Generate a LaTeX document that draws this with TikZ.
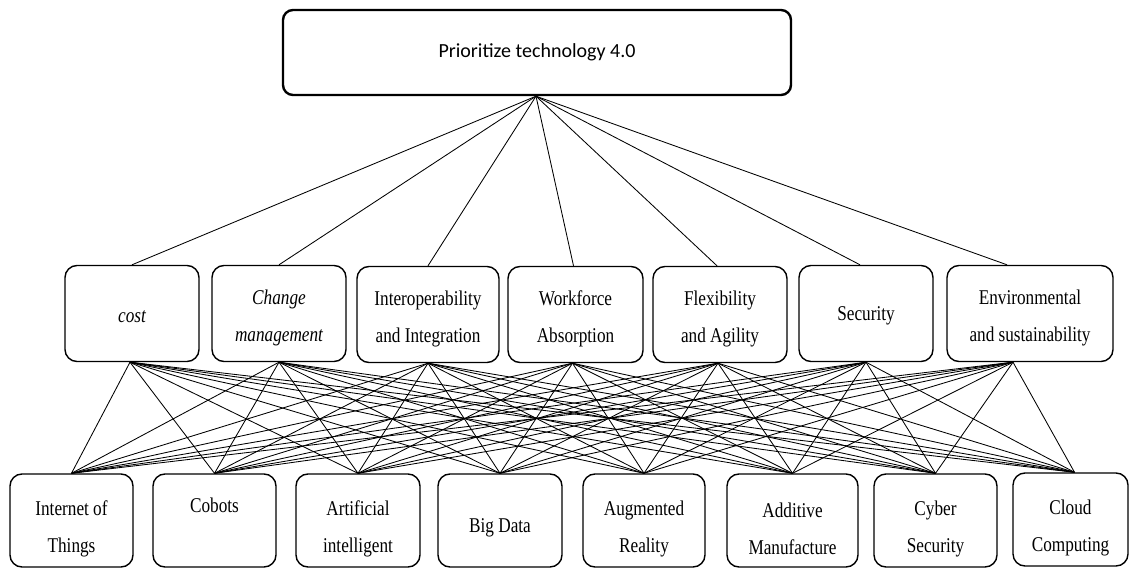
\documentclass[tikz,border=0pt]{standalone}
\usepackage{fontspec}
\setmainfont{Liberation Serif}[FakeStretch=0.82]
\newfontfamily\headfont{Carlito}
% invisible strut that lowers a text block inside its box
\newcommand\lift[1]{\rule{0pt}{#1}}
\begin{document}
\begin{tikzpicture}[x=1pt,y=-1pt,
  box/.style={draw, rounded corners=12pt, line width=1.4pt, align=center,
    inner sep=0pt, font=\fontsize{21}{37}\selectfont},
  crit/.style={box, minimum width=134pt, minimum height=96pt},
  tech/.style={box, minimum width=123pt, minimum height=93pt},
  link/.style={line width=0.85pt}]
\useasboundingbox (0,0) rectangle (1129,569);

% goal
\node[box, line width=2.4pt, rounded corners=10pt, minimum width=508pt, minimum height=85pt,
  font=\headfont\fontsize{20}{24}\selectfont] (goal) at (537,52.5) {Prioritize technology 4.0};

% criteria
\node[crit] (cost) at (132,313.5) {\lift{19pt}\itshape cost};
\node[crit] (chg) at (279,313.5) {\lift{24pt}\itshape Change\\\itshape management};
\node[crit, minimum width=142pt] (inter) at (428,314.5) {\lift{24pt}Interoperability\\and Integration};
\node[crit, minimum width=135pt] (work) at (575.5,314.5) {\lift{24pt}Workforce\\Absorption};
\node[crit] (flex) at (720,314.5) {\lift{24pt}Flexibility\\and Agility};
\node[crit] (sec) at (866,313.5) {\lift{19pt}Security};
\node[crit, minimum width=166pt] (env) at (1030,313.5) {\lift{24pt}Environmental\\and sustainability};

% technologies
\node[tech] (iot) at (71.5,520.5) {\lift{32pt}Internet of\\Things};
\node[tech] (cob) at (214.5,520.5) {\lift{32pt}Cobots\\\strut};
\node[tech, minimum width=124pt] (ai) at (358,520.5) {\lift{32pt}Artificial\\intelligent};
\node[tech, minimum width=124pt] (bd) at (500,520.5) {\lift{28pt}Big Data};
\node[tech, minimum width=122pt] (ar) at (644,520.5) {\lift{32pt}Augmented\\Reality};
\node[tech, minimum width=131pt] (am) at (792.5,520.5) {\lift{32pt}Additive\\Manufacture};
\node[tech] (cs) at (935.5,520.5) {\lift{32pt}Cyber\\Security};
\node[tech, minimum width=115pt] (cc) at (1070.5,519.5) {\lift{32pt}Cloud\\Computing};

% attachment points
\coordinate (costT) at (cost.north);  \coordinate (costB) at ([xshift=-2pt]cost.south);
\coordinate (chgT) at (chg.north);    \coordinate (chgB) at (chg.south);
\coordinate (interT) at (inter.north);\coordinate (interB) at (inter.south);
\coordinate (workT) at ([xshift=-2pt]work.north); \coordinate (workB) at ([xshift=-3pt]work.south);
\coordinate (flexT) at ([xshift=-3pt]flex.north); \coordinate (flexB) at ([xshift=-2pt]flex.south);
\coordinate (secT) at ([xshift=-6pt]sec.north);   \coordinate (secB) at (sec.south);
\coordinate (envT) at ([xshift=-23pt]env.north);  \coordinate (envB) at ([xshift=-17pt]env.south);
\coordinate (ccT) at ([xshift=4pt]cc.north);
\coordinate (iotT) at (iot.north); \coordinate (cobT) at (cob.north);
\coordinate (aiT) at (ai.north);   \coordinate (bdT) at (bd.north);
\coordinate (arT) at (ar.north);   \coordinate (amT) at (am.north);
\coordinate (csT) at (cs.north);

% goal to criteria
\foreach \c in {cost,chg,inter,work,flex,sec,env}
  \draw[link] ([xshift=-1pt]goal.south) -- (\c T);

% criteria to technologies
\foreach \c in {cost,chg,inter,work,flex,sec,env}
  \foreach \t in {iot,cob,ai,bd,ar,am,cs,cc}
    \draw[link] (\c B) -- (\t T);
\end{tikzpicture}
\end{document}
